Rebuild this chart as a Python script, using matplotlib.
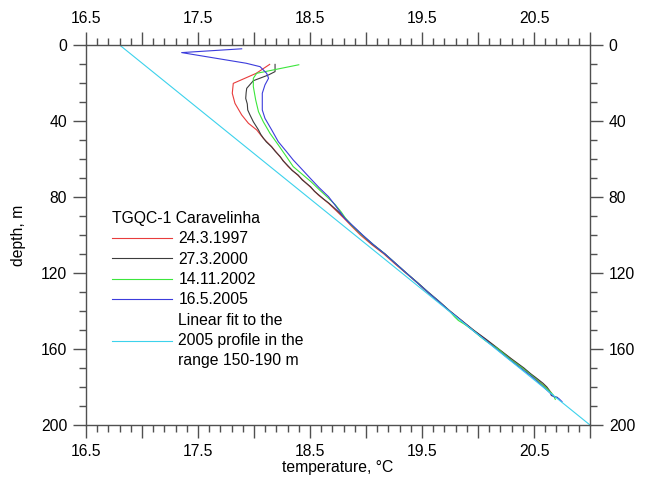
import matplotlib
matplotlib.use('Agg')
import matplotlib.pyplot as plt
from matplotlib.ticker import FixedLocator

plt.rcParams['font.family'] = ['Liberation Sans', 'DejaVu Sans']
plt.rcParams['font.size'] = 11.3

# ---------------- data ----------------
legend_title = 'TGQC-1 Caravelinha'

# 24.3.1997
red_depth = [10.2, 14.9, 20.2, 25.4, 30.7, 36.8, 41.2, 44.7, 49.1, 53.5, 58.8, 64.0,
             68.5, 74.6, 79.0, 83.3, 87.0, 91.0, 95.0, 100, 105, 110, 115, 120, 125,
             130, 135, 140, 145, 150, 155, 160, 165, 170, 175, 180, 183]
red_temp = [18.14, 18.02, 17.815, 17.806, 17.83, 17.89, 17.95, 18.024, 18.083, 18.158,
            18.232, 18.305, 18.39, 18.50, 18.575, 18.665, 18.73, 18.80, 18.865, 18.95,
            19.05, 19.16, 19.255, 19.355, 19.455, 19.545, 19.645, 19.745, 19.85, 19.955,
            20.07, 20.18, 20.29, 20.40, 20.505, 20.605, 20.655]

# 27.3.2000
black_depth = [10.2, 14.0, 15.8, 18.8, 22.8, 25.0, 28.1, 31.0, 34.2, 36.8, 40.4, 44.7,
               47.0, 49.1, 51.0, 53.5, 56.0, 58.8, 61.0, 64.0, 66.0, 68.5, 71.0, 74.6,
               77.0, 79.0, 81.0, 83.3, 87.0, 91.0, 95.0, 100, 105, 110, 115, 120, 125,
               130, 135, 140, 145, 150, 155, 160, 165, 170, 173, 175, 178, 180, 182,
               184.5, 185.5]
black_temp = [18.188, 18.188, 18.128, 17.994, 17.935, 17.93, 17.926, 17.94, 17.944,
              17.964, 17.994, 18.04, 18.06, 18.085, 18.11, 18.155, 18.19, 18.235, 18.26,
              18.31, 18.34, 18.395, 18.43, 18.505, 18.54, 18.58, 18.62, 18.67, 18.74,
              18.81, 18.875, 18.965, 19.06, 19.17, 19.265, 19.36, 19.46, 19.555, 19.655,
              19.75, 19.855, 19.96, 20.075, 20.185, 20.295, 20.41, 20.47, 20.515, 20.58,
              20.615, 20.64, 20.655, 20.71]

# 14.11.2002
green_depth = [10.4, 14.9, 17.5, 21.9, 28.9, 35.1, 40.4, 46.5, 52.6, 58.8, 64.0, 67.5,
               72.0, 76.0, 79.8, 84.0, 88.0, 91.0, 95.0, 100, 105, 110, 115, 120, 125,
               130, 135, 140, 143, 145, 147, 150, 153.5, 156, 160, 165, 170, 175, 180,
               184, 186.5]
green_temp = [18.40, 18.024, 17.994, 17.994, 18.015, 18.04, 18.083, 18.143, 18.217,
              18.29, 18.35, 18.42, 18.51, 18.58, 18.65, 18.725, 18.78, 18.815, 18.875,
              18.965, 19.065, 19.17, 19.265, 19.36, 19.455, 19.55, 19.65, 19.745, 19.79,
              19.825, 19.88, 19.95, 20.02, 20.075, 20.18, 20.28, 20.395, 20.50, 20.60,
              20.67, 20.69]

# 16.5.2005
blue_depth = [2.0, 4.0, 9.6, 11.4, 14.9, 17.5, 21.0, 25.4, 34.2, 38.6, 44.7, 50.9,
              56.1, 60.5, 64.9, 70.0, 75.0, 79.8, 84.0, 88.0, 91.2, 95.0, 100, 105, 110,
              115, 120, 125, 130, 135, 140, 145, 150, 155, 160, 165, 170, 175, 180, 183,
              185, 186, 187.7]
blue_temp = [17.89, 17.354, 17.93, 18.054, 18.113, 18.13, 18.098, 18.074, 18.074,
             18.098, 18.158, 18.217, 18.29, 18.35, 18.42, 18.50, 18.58, 18.665, 18.72,
             18.77, 18.81, 18.88, 18.97, 19.065, 19.17, 19.265, 19.36, 19.455, 19.55,
             19.65, 19.745, 19.85, 19.95, 20.06, 20.165, 20.27, 20.38, 20.49, 20.585,
             20.64, 20.675, 20.72, 20.75]

# linear fit to the 2005 profile, 150-190 m
fit_depth = [0, 200]
fit_temp = [16.80, 21.00]

series_labels = ['24.3.1997', '27.3.2000', '14.11.2002', '16.5.2005',
                 'Linear fit to the\n2005 profile in the\nrange 150-190 m']

x_ticks = [16.5, 17.0, 17.5, 18.0, 18.5, 19.0, 19.5, 20.0, 20.5, 21.0]
x_tick_labels = ['16.5', '', '17.5', '', '18.5', '', '19.5', '', '20.5', '']
y_ticks = [0, 40, 80, 120, 160, 200]
y_tick_labels = ['0', '40', '80', '120', '160', '200']

# ---------------- figure ----------------
W, H = 654, 488
fig = plt.figure(figsize=(W / 100, H / 100), dpi=100)
ax = fig.add_axes([86 / W, 1 - 425 / H, 504 / W, 380 / H])

lw = 0.8
ax.plot(red_temp, red_depth, color='#e83c3c', lw=lw, label=series_labels[0])
ax.plot(black_temp, black_depth, color='#3c3c3c', lw=lw, label=series_labels[1])
ax.plot(green_temp, green_depth, color='#3ce63c', lw=lw, label=series_labels[2])
ax.plot(blue_temp, blue_depth, color='#3c3cdc', lw=lw, label=series_labels[3])
ax.plot(fit_temp, fit_depth, color='#3cd2ec', lw=lw, label=series_labels[4])

ax.set_xlim(16.5, 21.0)
ax.set_ylim(200, 0)

ax.xaxis.set_major_locator(FixedLocator(x_ticks))
ax.set_xticklabels(x_tick_labels)
ax.xaxis.set_minor_locator(FixedLocator([16.5 + 0.1 * i for i in range(46)]))
ax.yaxis.set_major_locator(FixedLocator(y_ticks))
ax.set_yticklabels(y_tick_labels)
ax.yaxis.set_minor_locator(FixedLocator(list(range(0, 201, 10))))

spine_c = '#505050'
for s in ax.spines.values():
    s.set_color(spine_c)
    s.set_linewidth(1.0)

ax.tick_params(which='both', direction='out', top=True, right=True,
               labeltop=True, labelright=True, color=spine_c, width=1.0)
ax.tick_params(which='major', length=9.5, pad=4)
ax.tick_params(which='minor', length=5)

ax.set_xlabel('temperature, °C', labelpad=1)
ax.set_ylabel('depth, m', labelpad=11)

leg = ax.legend(loc='upper left', bbox_to_anchor=(112 / W, 1 - 211 / H),
                bbox_transform=fig.transFigure, frameon=False, borderpad=0,
                borderaxespad=0, title=legend_title, alignment='left',
                handlelength=3.85, handletextpad=0.38, labelspacing=0.34,
                title_fontsize=11.3)
for t in leg.get_texts():
    t.set_linespacing(1.42)

fig.savefig('out.png', dpi=100)
